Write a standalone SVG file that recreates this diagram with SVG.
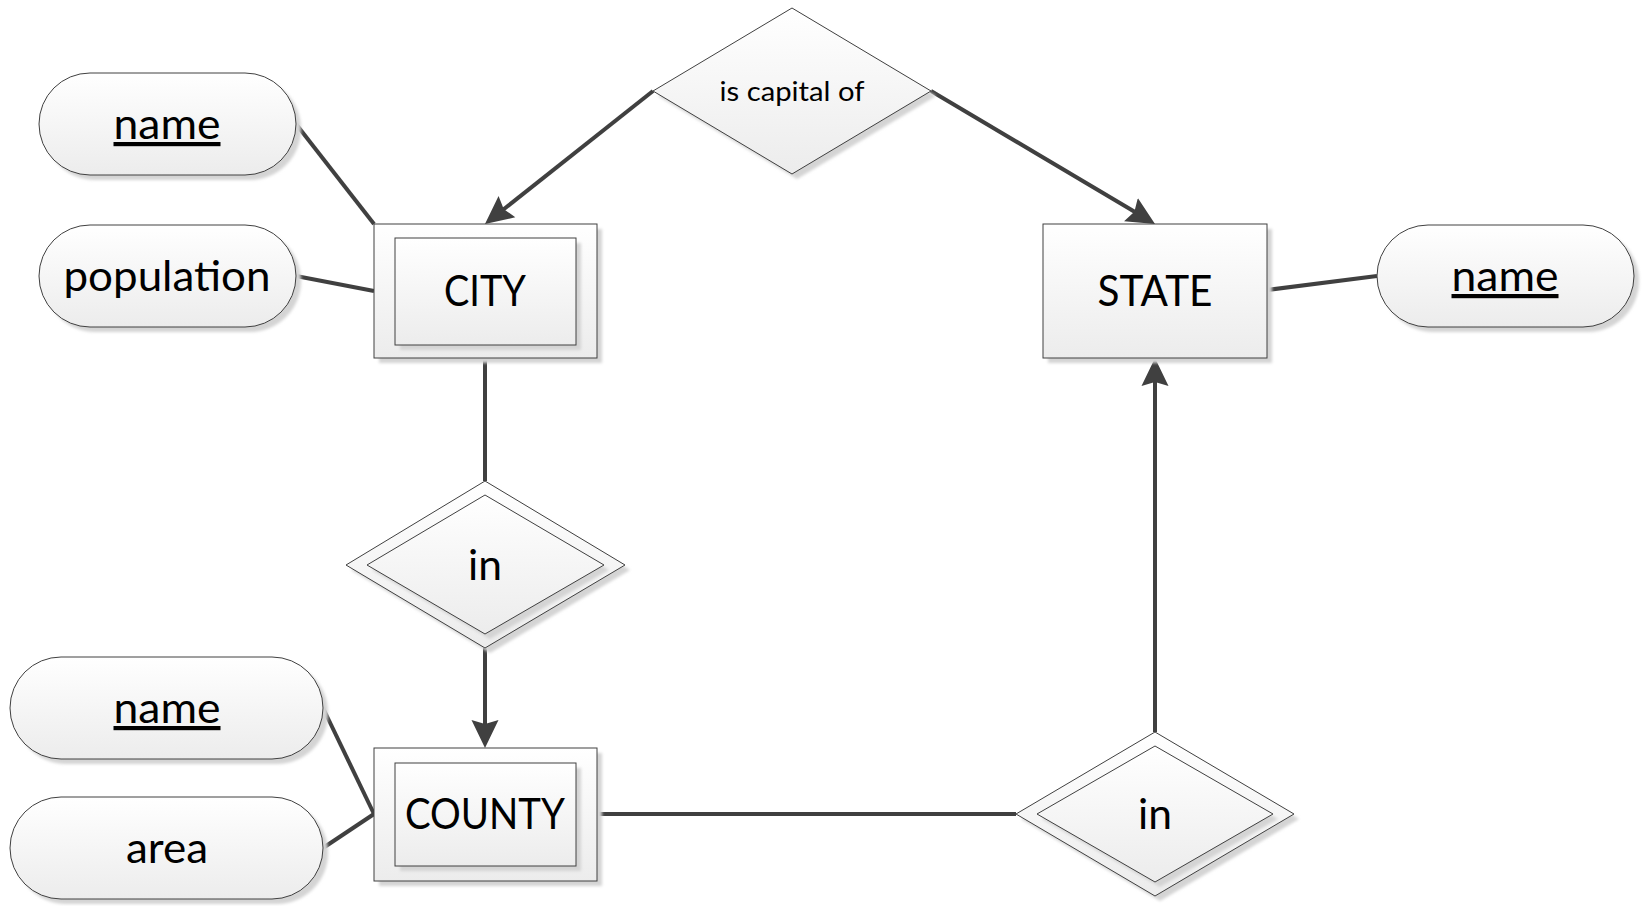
<svg xmlns="http://www.w3.org/2000/svg" width="1644" height="906" viewBox="0 0 1644 906">
  <defs>
    <linearGradient id="fill" x1="0" y1="0" x2="0" y2="1">
      <stop offset="0" stop-color="#ffffff"/>
      <stop offset="1" stop-color="#ececec"/>
    </linearGradient>
    <filter id="soft" x="-10%" y="-10%" width="120%" height="120%">
      <feGaussianBlur stdDeviation="1.5"/>
    </filter>
    <!-- arrowhead with a shallow notched back; tip sits 12px past the line end -->
    <marker id="arrow" markerUnits="userSpaceOnUse" markerWidth="30" markerHeight="30" refX="16" refY="14" orient="auto">
      <path d="M0,0.5 L28,14 L0,27.5 L4,14 Z" fill="#404040"/>
    </marker>
  </defs>
  <style>
    .shape { fill: url(#fill); stroke: #404040; stroke-width: 1; }
    .shadow { fill: #d4d4d4; filter: url(#soft); }
    .link { stroke: #404040; stroke-width: 4; fill: none; }
    .arrowed { marker-end: url(#arrow); }
    .label { font-family: Lato, "Open Sans", "Liberation Sans", sans-serif; font-size: 42px; fill: #000000; text-anchor: middle; }
    .small { font-size: 27px; }
    .key { text-decoration: underline; }
  </style>
  <rect width="1644" height="906" fill="#ffffff"/>

  <!-- connectors -->
  <g id="connectors">
    <line class="link" x1="296" y1="124" x2="374" y2="224"/>
    <line class="link" x1="296" y1="276" x2="374" y2="291"/>
    <line class="link" x1="1267" y1="290" x2="1377" y2="276"/>
    <line class="link" x1="485" y1="358" x2="485" y2="481"/>
    <line class="link" x1="323" y1="708" x2="374" y2="814"/>
    <line class="link" x1="323" y1="848" x2="374" y2="814"/>
    <line class="link" x1="597" y1="814" x2="1016" y2="814"/>
    <line class="link arrowed" x1="653" y1="91" x2="494.4" y2="216.6"/>
    <line class="link arrowed" x1="931" y1="91" x2="1144.7" y2="217.8"/>
    <line class="link arrowed" x1="485" y1="648" x2="485" y2="736"/>
    <line class="link arrowed" x1="1155" y1="732" x2="1155" y2="370"/>
  </g>

  <!-- CITY attributes -->
  <g id="city-name">
    <rect class="shadow" x="44" y="78" width="257" height="102" rx="51"/>
    <rect class="shape" x="39" y="73" width="257" height="102" rx="51"/>
    <text class="label key" x="167" y="139" textLength="107" lengthAdjust="spacingAndGlyphs">name</text>
  </g>
  <g id="city-population">
    <rect class="shadow" x="44" y="230" width="257" height="102" rx="51"/>
    <rect class="shape" x="39" y="225" width="257" height="102" rx="51"/>
    <text class="label" x="167" y="291" textLength="207" lengthAdjust="spacingAndGlyphs">population</text>
  </g>

  <!-- CITY (weak entity) -->
  <g id="city">
    <rect class="shadow" x="379" y="229" width="223" height="134"/>
    <rect class="shape" x="374" y="224" width="223" height="134"/>
    <rect class="shadow" x="400" y="243" width="181" height="107"/>
    <rect class="shape" x="395" y="238" width="181" height="107"/>
    <text class="label" x="485" y="306" textLength="82" lengthAdjust="spacingAndGlyphs">CITY</text>
  </g>

  <!-- is capital of -->
  <g id="is-capital-of">
    <polygon class="shadow" points="797,13 936,96 797,179 658,96"/>
    <polygon class="shape" points="792,8 931,91 792,174 653,91"/>
    <text class="label small" x="792" y="101" textLength="145" lengthAdjust="spacingAndGlyphs">is capital of</text>
  </g>

  <!-- STATE -->
  <g id="state">
    <rect class="shadow" x="1048" y="229" width="224" height="134"/>
    <rect class="shape" x="1043" y="224" width="224" height="134"/>
    <text class="label" x="1155" y="306" textLength="115" lengthAdjust="spacingAndGlyphs">STATE</text>
  </g>
  <g id="state-name">
    <rect class="shadow" x="1382" y="230" width="257" height="102" rx="51"/>
    <rect class="shape" x="1377" y="225" width="257" height="102" rx="51"/>
    <text class="label key" x="1505" y="291" textLength="107" lengthAdjust="spacingAndGlyphs">name</text>
  </g>

  <!-- in (CITY - COUNTY) -->
  <g id="in-city-county">
    <polygon class="shadow" points="490,486 630,570 490,653 351,570"/>
    <polygon class="shape" points="485,481 625,565 485,648 346,565"/>
    <polygon class="shadow" points="490,500 609,570 490,639 372,570"/>
    <polygon class="shape" points="485,495 604,565 485,634 367,565"/>
    <text class="label" x="485" y="580" textLength="34" lengthAdjust="spacingAndGlyphs">in</text>
  </g>

  <!-- COUNTY attributes -->
  <g id="county-name">
    <rect class="shadow" x="15" y="662" width="313" height="102" rx="51"/>
    <rect class="shape" x="10" y="657" width="313" height="102" rx="51"/>
    <text class="label key" x="167" y="723" textLength="107" lengthAdjust="spacingAndGlyphs">name</text>
  </g>
  <g id="county-area">
    <rect class="shadow" x="15" y="802" width="313" height="102" rx="51"/>
    <rect class="shape" x="10" y="797" width="313" height="102" rx="51"/>
    <text class="label" x="167" y="863" textLength="82" lengthAdjust="spacingAndGlyphs">area</text>
  </g>

  <!-- COUNTY (weak entity) -->
  <g id="county">
    <rect class="shadow" x="379" y="753" width="223" height="133"/>
    <rect class="shape" x="374" y="748" width="223" height="133"/>
    <rect class="shadow" x="400" y="768" width="181" height="103"/>
    <rect class="shape" x="395" y="763" width="181" height="103"/>
    <text class="label" x="485" y="829" textLength="160" lengthAdjust="spacingAndGlyphs">COUNTY</text>
  </g>

  <!-- in (COUNTY - STATE) -->
  <g id="in-county-state">
    <polygon class="shadow" points="1160,737 1299,819 1160,901 1021,819"/>
    <polygon class="shape" points="1155,732 1294,814 1155,896 1016,814"/>
    <polygon class="shadow" points="1160,751 1278,819 1160,887 1042,819"/>
    <polygon class="shape" points="1155,746 1273,814 1155,882 1037,814"/>
    <text class="label" x="1155" y="829" textLength="34" lengthAdjust="spacingAndGlyphs">in</text>
  </g>
</svg>
